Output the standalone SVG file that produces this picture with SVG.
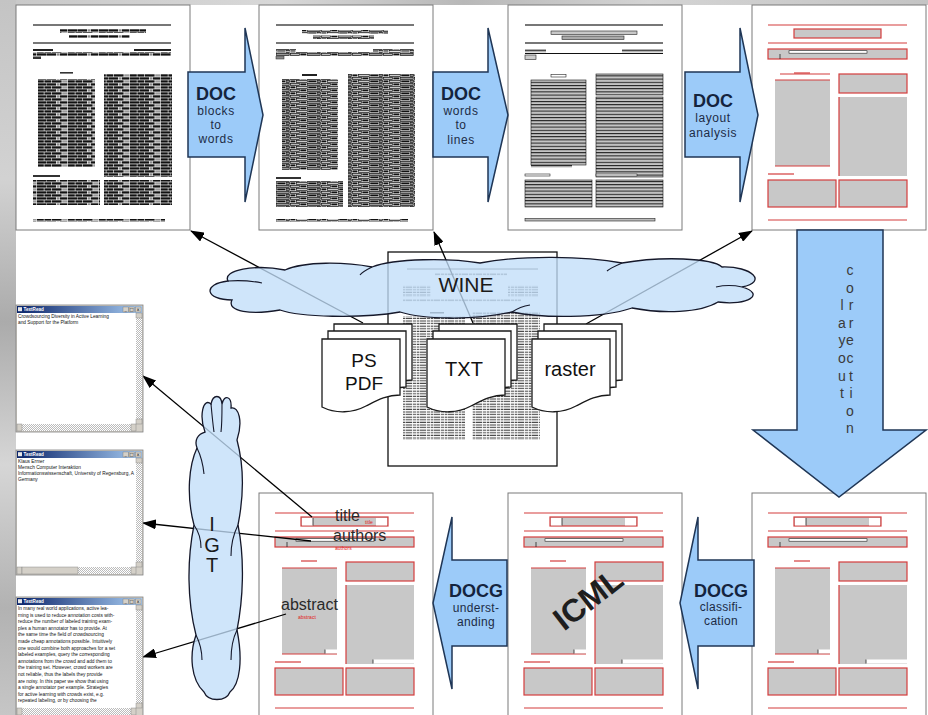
<svg xmlns="http://www.w3.org/2000/svg" width="928" height="715" viewBox="0 0 928 715">
<style>
.pg{fill:#fff;stroke:#7a7a7a;stroke-width:1}
.dl{stroke:#4a4a4a;stroke-width:1.6}
.rl{stroke:#d43c3c;stroke-width:1.2;fill:none}
.rb{fill:#c8c8c8;stroke:#d43c3c;stroke-width:1.2}
.gb{fill:#c8c8c8}
.bk{stroke:#222;stroke-width:.8}
.blk{fill:#9ccbf9;stroke:#1f3656;stroke-width:1.5}
.big{font-family:"Liberation Sans",Arial,sans-serif;font-weight:bold;font-size:18px;fill:#14243e;text-anchor:middle}
.sub{font-family:"Liberation Sans",Arial,sans-serif;font-size:12px;fill:#1c2c46;text-anchor:middle;letter-spacing:0.6px}
.cloud{fill:#c2def8;fill-opacity:.78;stroke:#15182a;stroke-width:1.3}
.fold{fill:none;stroke:#15182a;stroke-width:1.1}
.sheet{fill:#fff;stroke:#1a1a1a;stroke-width:1.3}
.st{font-family:"Liberation Sans",Arial,sans-serif;font-size:20px;fill:#111;text-anchor:middle}
.lc{font-family:"Liberation Sans",Arial,sans-serif;font-size:14px;fill:#3a3a3a;text-anchor:middle}
.conn{stroke:#000;stroke-width:1.3;fill:none;marker-end:url(#ah)}
.lab{font-family:"Liberation Sans",Arial,sans-serif;font-size:16px;fill:#2a2a2a}
.rsm{font-family:"Liberation Sans",Arial,sans-serif;font-size:5px;fill:#e02020}
.wt{font-family:"Liberation Sans",Arial,sans-serif;font-size:4.6px;font-weight:bold;fill:#fff}
.wx{font-family:"Liberation Sans",Arial,sans-serif;font-size:4.8px;fill:#111}
.wb{fill:#d4d0c8;stroke:#777;stroke-width:.4}
.bt{font-family:"DejaVu Sans",sans-serif;font-size:4.5px;fill:#000;text-anchor:middle}
</style>
<defs>
<linearGradient id="lstrip" x1="0" y1="0" x2="0" y2="1">
<stop offset="0" stop-color="#c4c4c4"/><stop offset=".25" stop-color="#d2d2d2"/><stop offset=".45" stop-color="#ababab"/><stop offset=".65" stop-color="#d6d6d6"/><stop offset=".85" stop-color="#b2b2b2"/><stop offset="1" stop-color="#c6c6c6"/>
</linearGradient>
<linearGradient id="tstrip" x1="0" y1="0" x2="1" y2="0">
<stop offset="0" stop-color="#c8c8c8"/><stop offset=".3" stop-color="#d8d8d8"/><stop offset=".5" stop-color="#b8b8b8"/><stop offset=".7" stop-color="#d4d4d4"/><stop offset="1" stop-color="#c4c4c4"/>
</linearGradient>
<linearGradient id="tb" x1="0" y1="0" x2="1" y2="0">
<stop offset="0" stop-color="#0a246a"/><stop offset="1" stop-color="#a6caf0"/>
</linearGradient>
<pattern id="n1" patternUnits="userSpaceOnUse" width="31" height="6">
<rect width="31" height="6" fill="#fff"/>
<rect x="0" y="0.3" width="9" height="2.3" fill="#111"/>
<rect x="9.6" y="0.3" width="3" height="2.3" fill="#888"/>
<rect x="13" y="0.3" width="7" height="2.3" fill="#111"/>
<rect x="20.6" y="0.3" width="10" height="2.3" fill="#111"/>
<rect x="0" y="3.3" width="4" height="2.3" fill="#111"/>
<rect x="4.6" y="3.3" width="10" height="2.3" fill="#111"/>
<rect x="15.2" y="3.3" width="5" height="2.3" fill="#999"/>
<rect x="20.8" y="3.3" width="7" height="2.3" fill="#111"/>
<rect x="28.4" y="3.3" width="2.6" height="2.3" fill="#111"/>
</pattern>
<pattern id="n2" patternUnits="userSpaceOnUse" width="31" height="6">
<rect width="31" height="6" fill="#fff"/>
<rect x="0.4" y="0.4" width="9" height="2" fill="#bbb" stroke="#111" stroke-width=".7"/>
<rect x="10.3" y="0.4" width="6" height="2" fill="#111"/>
<rect x="17.2" y="0.4" width="13" height="2" fill="#999" stroke="#111" stroke-width=".7"/>
<rect x="0.4" y="3.4" width="5" height="2" fill="#111"/>
<rect x="6.3" y="3.4" width="11" height="2" fill="#ccc" stroke="#111" stroke-width=".7"/>
<rect x="18.2" y="3.4" width="8" height="2" fill="#111"/>
<rect x="27" y="3.4" width="3.6" height="2" fill="#888" stroke="#111" stroke-width=".7"/>
</pattern>
<pattern id="ln" patternUnits="userSpaceOnUse" width="10" height="3.2">
<rect width="10" height="3.2" fill="#c4c4c4"/>
<rect width="10" height="1" fill="#1a1a1a"/>
</pattern>
<pattern id="tx" patternUnits="userSpaceOnUse" width="14" height="2.6">
<rect width="14" height="2.6" fill="#fff"/>
<rect x="0" y="0.6" width="6" height="1.1" fill="#444"/>
<rect x="6.8" y="0.6" width="3.5" height="1.1" fill="#555"/>
<rect x="11" y="0.6" width="2.4" height="1.1" fill="#444"/>
</pattern>
<pattern id="chk" patternUnits="userSpaceOnUse" width="2" height="2">
<rect width="2" height="2" fill="#fff"/>
<rect width="1" height="1" fill="#bbb"/>
<rect x="1" y="1" width="1" height="1" fill="#bbb"/>
</pattern>
<marker id="ah" markerUnits="userSpaceOnUse" markerWidth="14" markerHeight="10" viewBox="0 0 14 10" refX="13" refY="5" orient="auto">
<path d="M0,0 L14,5 L0,10 Z" fill="#000"/>
</marker>
<path id="sh" d="M0,0 H78 V56 C64,56 54,62 44,67 C31,74 14,75 0,68 Z"/>
<g id="redLayout">
<line class="rl" x1="16" y1="20" x2="155" y2="20"/>
<rect class="rb" x="42" y="24" width="87" height="9"/>
<line class="rl" x1="16" y1="38" x2="155" y2="38"/>
<rect class="rb" x="16" y="44" width="139" height="10"/>
<rect x="37" y="45.7" width="78" height="2.5" fill="#fff" stroke="#222" stroke-width=".6"/>
<line class="bk" x1="28" y1="49" x2="28" y2="54"/>
<line class="rl" x1="42" y1="68" x2="58" y2="68"/>
<rect class="gb" x="23" y="75" width="55" height="86"/>
<line class="rl" x1="23" y1="75" x2="78" y2="75"/>
<line class="rl" x1="23" y1="161" x2="78" y2="161"/>
<rect class="rb" x="87" y="69" width="68" height="19"/>
<rect class="gb" x="87" y="92" width="68" height="79"/>
<line class="rl" x1="87" y1="92" x2="87" y2="171"/>
<line class="rl" x1="16" y1="169" x2="42" y2="169"/>
<rect class="rb" x="16" y="175" width="68" height="27"/>
<rect class="rb" x="87" y="175" width="68" height="27"/>
<line class="rl" x1="16" y1="215" x2="155" y2="215"/>
</g>
<g id="notches">
<rect x="43" y="25" width="11" height="7.4" fill="#fff"/>
<rect x="117" y="25" width="11" height="7.4" fill="#fff"/>
<line class="bk" x1="54" y1="25" x2="54" y2="32.5"/>
<rect x="66" y="156.5" width="12" height="3.8" fill="#fff"/>
<line class="bk" x1="66" y1="156.5" x2="66" y2="160.5"/>
<rect x="114" y="166.5" width="41" height="4" fill="#fff"/>
<line class="bk" x1="114" y1="166.5" x2="114" y2="170.5"/>
</g>
</defs>

<rect width="928" height="715" fill="#fff"/>
<rect x="0" y="0" width="928" height="5" fill="url(#tstrip)"/>
<rect x="0" y="0" width="16" height="715" fill="url(#lstrip)"/>

<!-- top row pages -->
<g id="page-blocks" transform="translate(16,5)">
<rect class="pg" width="174" height="225"/>
<line class="dl" x1="17" y1="20" x2="155" y2="20"/>
<rect x="44" y="24" width="86" height="4" fill="url(#n1)"/>
<rect x="53" y="30" width="61" height="3" fill="url(#n1)"/>
<line class="dl" x1="17" y1="38" x2="155" y2="38"/>
<rect x="17" y="44" width="20" height="2" fill="#222"/>
<rect x="118" y="44" width="37" height="2" fill="#222"/>
<rect x="17" y="47" width="138" height="4" fill="url(#n1)"/>
<rect x="17" y="51.5" width="8" height="2.5" fill="#333"/>
<rect x="44" y="67" width="13" height="1.6" fill="#333"/>
<rect x="22" y="74" width="57" height="88" fill="url(#n1)"/>
<rect x="88" y="69" width="68" height="103" fill="url(#n1)"/>
<rect x="17" y="170" width="27" height="2" fill="#333"/>
<rect x="17" y="175" width="67" height="25" fill="url(#n1)"/>
<rect x="88" y="175" width="68" height="25" fill="url(#n1)"/>
<rect x="17" y="214" width="132" height="2.5" fill="url(#n1)"/>
</g>

<g id="page-words" transform="translate(259,5)">
<rect class="pg" width="174" height="225"/>
<line class="dl" x1="17" y1="20" x2="155" y2="20"/>
<rect x="43" y="25" width="86" height="3.5" fill="url(#n2)"/>
<rect x="54" y="30.5" width="61" height="3.5" fill="url(#n2)"/>
<line class="dl" x1="17" y1="38" x2="155" y2="38"/>
<rect x="17" y="44" width="20" height="2.5" fill="url(#n2)"/>
<rect x="114" y="44" width="41" height="2.5" fill="url(#n2)"/>
<rect x="17" y="47" width="138" height="4" fill="url(#n2)"/>
<rect x="17" y="51.5" width="8" height="2.5" fill="#888" stroke="#222" stroke-width=".5"/>
<rect x="43" y="69" width="15" height="2" fill="#222"/>
<rect x="23" y="74" width="56" height="91" fill="url(#n2)"/>
<rect x="89" y="69" width="67" height="108" fill="url(#n2)"/>
<rect x="17" y="172" width="25" height="2" fill="#333"/>
<rect x="17" y="176" width="67" height="26" fill="url(#n2)"/>
<rect x="89" y="176" width="67" height="26" fill="url(#n2)"/>
<rect x="17" y="214" width="132" height="2.5" fill="url(#n2)"/>
</g>

<g id="page-lines" transform="translate(508,5)">
<rect class="pg" width="174" height="225"/>
<line class="dl" x1="17" y1="20" x2="155" y2="20"/>
<rect x="43" y="26" width="86" height="3.5" fill="#c8c8c8" stroke="#222" stroke-width=".6"/>
<rect x="54" y="31" width="62" height="3.5" fill="#aaa" stroke="#222" stroke-width=".6"/>
<line class="dl" x1="17" y1="38" x2="155" y2="38"/>
<rect x="17" y="44" width="21" height="3.5" fill="url(#ln)"/>
<rect x="114" y="44" width="41" height="3.5" fill="url(#ln)"/>
<line x1="17" y1="48.5" x2="155" y2="48.5" stroke="#111" stroke-width="1"/>
<rect x="17" y="50" width="11" height="4.5" fill="#ccc" stroke="#222" stroke-width=".6"/>
<rect x="43" y="69.5" width="15" height="2.5" fill="#fff" stroke="#222" stroke-width=".6"/>
<rect x="23" y="75" width="55" height="85" fill="url(#ln)" stroke="#111" stroke-width=".6"/>
<rect x="23" y="160" width="41" height="2.5" fill="url(#ln)"/>
<rect x="88" y="69" width="67" height="21" fill="url(#ln)" stroke="#111" stroke-width=".6"/>
<rect x="88" y="92" width="67" height="80" fill="url(#ln)" stroke="#111" stroke-width=".6"/>
<rect x="17" y="169" width="25" height="2" fill="#fff" stroke="#222" stroke-width=".6"/>
<rect x="88" y="169" width="41" height="2" fill="#fff" stroke="#222" stroke-width=".6"/>
<rect x="17" y="175" width="67" height="27" fill="url(#ln)" stroke="#111" stroke-width=".6"/>
<rect x="88" y="175" width="67" height="27" fill="url(#ln)" stroke="#111" stroke-width=".6"/>
<rect x="17" y="213.5" width="130" height="2.5" fill="#bbb" stroke="#222" stroke-width=".6"/>
</g>

<g id="page-layout" transform="translate(752,5)">
<rect class="pg" width="174" height="225"/>
<use href="#redLayout"/>
<line class="rl" x1="28" y1="69" x2="78" y2="69"/>
</g>

<!-- bottom row pages -->
<g id="page-classified" transform="translate(752,493)">
<rect class="pg" width="174" height="225"/>
<use href="#redLayout"/>
<use href="#notches"/>
</g>

<g id="page-icml" transform="translate(508,493)">
<rect class="pg" width="174" height="225"/>
<use href="#redLayout"/>
<use href="#notches"/>
<text x="80" y="106" transform="rotate(-38 80 106)" text-anchor="middle" dominant-baseline="central" font-family="Liberation Sans, Arial, sans-serif" font-weight="bold" font-size="32" fill="#1e1e1e">ICML</text>
</g>

<g id="page-understood" transform="translate(259,493)">
<rect class="pg" width="174" height="225"/>
<use href="#redLayout"/>
<use href="#notches"/>
<text class="lab" x="76" y="28">title</text>
<text class="rsm" x="106" y="31">title</text>
<text class="lab" x="74" y="48">authors</text>
<text class="rsm" x="76" y="56.5">authors</text>
<text class="lab" x="22" y="117">abstract</text>
<text class="rsm" x="39" y="125.5">abstract</text>
</g>

<!-- block arrows -->
<g id="step-blocks-to-words">
<path class="blk" d="M188,72 H245 V28 L263,115 L245,202 V157 H188 Z"/>
<text class="big" x="216" y="100">DOC</text>
<text class="sub" x="216" y="115">blocks</text>
<text class="sub" x="216" y="129">to</text>
<text class="sub" x="216" y="143">words</text>
</g>
<g id="step-words-to-lines">
<path class="blk" d="M433,72 H488 V28 L508,115 L488,202 V157 H433 Z"/>
<text class="big" x="461" y="100">DOC</text>
<text class="sub" x="461" y="115">words</text>
<text class="sub" x="461" y="129">to</text>
<text class="sub" x="461" y="144">lines</text>
</g>
<g id="step-layout-analysis">
<path class="blk" d="M685,72 H740 V28 L758,115 L740,202 V157 H685 Z"/>
<text class="big" x="713" y="107">DOC</text>
<text class="sub" x="713" y="122">layout</text>
<text class="sub" x="713" y="137">analysis</text>
</g>
<g id="step-layout-correction">
<path class="blk" d="M797,230 V430 H753 L839,497 L926,430 H883 V230 Z"/>
<text class="lc" x="850" y="275">c</text>
<text class="lc" x="850" y="292.6">o</text>
<text class="lc" x="851" y="310">r</text>
<text class="lc" x="851" y="327.8">r</text>
<text class="lc" x="850" y="345.4">e</text>
<text class="lc" x="850" y="363">c</text>
<text class="lc" x="851" y="380.6">t</text>
<text class="lc" x="851" y="398">i</text>
<text class="lc" x="850" y="415.8">o</text>
<text class="lc" x="850" y="433.4">n</text>
<text class="lc" x="842" y="310">l</text>
<text class="lc" x="842" y="327.8">a</text>
<text class="lc" x="842" y="345.4">y</text>
<text class="lc" x="842" y="363">o</text>
<text class="lc" x="842" y="380.6">u</text>
<text class="lc" x="842" y="398">t</text>
</g>
<g id="step-classification">
<path class="blk" d="M754,560 H698 V517 L680,603 L698,689 V646 H754 Z"/>
<text class="big" x="721" y="597">DOCG</text>
<text class="sub" x="721" y="611" style="letter-spacing:0.3px">classifi-</text>
<text class="sub" x="721" y="625" style="letter-spacing:0.3px">cation</text>
</g>
<g id="step-understanding">
<path class="blk" d="M507,560 H452 V517 L433,603 L452,689 V646 H507 Z"/>
<text class="big" x="476" y="597">DOCG</text>
<text class="sub" x="476" y="612" style="letter-spacing:0.3px">underst-</text>
<text class="sub" x="476" y="626" style="letter-spacing:0.3px">anding</text>
</g>

<!-- source document -->
<g id="source-doc">
<rect x="388" y="252" width="169" height="214" fill="#fff" stroke="#111" stroke-width="1.3"/>
<line x1="407" y1="269" x2="538" y2="269" stroke="#444" stroke-width="1"/>
<rect x="435" y="273" width="72" height="2.6" fill="url(#tx)"/>
<rect x="403" y="285" width="28" height="12" fill="url(#tx)"/>
<rect x="508" y="285" width="30" height="12" fill="url(#tx)"/>
<rect x="403" y="299" width="118" height="2.6" fill="url(#tx)"/>
<rect x="430" y="312" width="14" height="1.5" fill="#333"/>
<rect x="403" y="316" width="62" height="124" fill="url(#tx)"/>
<rect x="472" y="312" width="68" height="128" fill="url(#tx)"/>
</g>

<!-- connectors -->
<g id="connectors">
<path class="conn" d="M363,323 L191,231"/>
<path class="conn" d="M473,323 L434,232"/>
<path class="conn" d="M586,324 L752,231"/>
<path class="conn" d="M312,517 L143,376"/>
<path class="conn" d="M311,541 L143,523"/>
<path class="conn" d="M286,614 L143,657"/>
</g>

<!-- clouds -->
<g id="cloud-wine">
<path class="cloud" d="M232,300 C205,300 202,284 228,281 C222,270 255,264 285,270 C305,261 345,262 372,267 C395,258 450,258 480,263 C520,255 585,256 622,263 C662,256 712,258 722,267 C752,266 768,282 742,287 C766,294 748,306 718,302 C700,313 662,314 632,308 C600,319 540,318 512,312 C472,321 422,319 400,312 C360,319 300,317 280,310 C252,315 226,312 232,300 Z"/>
<path class="fold" d="M228,281 C240,280 252,281 262,283"/>
<path class="fold" d="M742,287 C733,285 725,285 716,287"/>
<path class="fold" d="M372,267 C366,270 362,272 360,275"/>
<path class="fold" d="M622,263 C615,266 610,268 607,271"/>
<path class="fold" d="M512,312 C518,308 524,306 530,305"/>
<text x="466" y="292" text-anchor="middle" font-family="Liberation Sans, Arial, sans-serif" font-size="21" fill="#1a1a1a">WINE</text>
</g>

<g id="cloud-igt">
<path class="cloud" d="M205,432 C199,416 203,397 211,404 C213,394 221,394 222,404 C224,394 232,396 231,408 C239,406 243,422 237,440 C245,470 243,500 238,525 C245,560 243,600 237,630 C243,660 240,684 230,692 C226,702 208,702 204,692 C191,680 189,655 196,635 C187,600 187,560 194,525 C186,495 189,465 197,448 C194,440 198,434 205,432 Z"/>
<path class="fold" d="M211,404 C212,415 213,425 214,432"/>
<path class="fold" d="M222,404 C222,414 222,424 221,432"/>
<path class="fold" d="M197,448 C201,456 203,464 204,474"/>
<path class="fold" d="M238,525 C233,535 231,546 231,556"/>
<path class="fold" d="M194,525 C199,532 201,540 201,548"/>
<path class="fold" d="M196,635 C200,643 202,651 202,660"/>
<path class="fold" d="M237,630 C232,640 231,650 231,660"/>
<text x="212" y="531" text-anchor="middle" font-family="Liberation Sans, Arial, sans-serif" font-size="20" fill="#1a1a1a">I</text>
<text x="212" y="552" text-anchor="middle" font-family="Liberation Sans, Arial, sans-serif" font-size="20" fill="#1a1a1a">G</text>
<text x="212" y="572" text-anchor="middle" font-family="Liberation Sans, Arial, sans-serif" font-size="20" fill="#1a1a1a">T</text>
</g>

<!-- input format stacks -->
<g id="stack-ps-pdf">
<use href="#sh" class="sheet" x="334" y="324"/>
<use href="#sh" class="sheet" x="328" y="331"/>
<use href="#sh" class="sheet" x="322" y="339"/>
<text class="st" x="364" y="367" style="font-size:19px">PS</text>
<text class="st" x="364" y="390" style="font-size:19px">PDF</text>
</g>
<g id="stack-txt">
<use href="#sh" class="sheet" x="439" y="324"/>
<use href="#sh" class="sheet" x="433" y="331"/>
<use href="#sh" class="sheet" x="427" y="339"/>
<text class="st" x="464" y="376">TXT</text>
</g>
<g id="stack-raster">
<use href="#sh" class="sheet" x="544" y="324"/>
<use href="#sh" class="sheet" x="538" y="331"/>
<use href="#sh" class="sheet" x="532" y="339"/>
<text class="st" x="570" y="376">raster</text>
</g>

<!-- text windows -->
<g id="win-title" transform="translate(16,305)">
<rect width="127" height="127" fill="#d4d0c8" stroke="#808080" stroke-width=".8"/>
<rect x="1" y="1" width="125" height="7" fill="url(#tb)"/>
<rect x="2" y="2.2" width="4" height="4" fill="#e8e8e8"/>
<text class="wt" x="7.5" y="6.3">TextRead</text>
<rect class="wb" x="107" y="2" width="5.5" height="5"/><rect class="wb" x="113" y="2" width="5.5" height="5"/><rect class="wb" x="119.5" y="2" width="5.5" height="5"/>
<text class="bt" x="109.7" y="6">_</text><text class="bt" x="115.7" y="6">□</text><text class="bt" x="122.2" y="6">x</text>
<rect x="1" y="8" width="119" height="111" fill="#fff"/>
<rect x="120" y="8" width="6" height="111" fill="url(#chk)"/>
<rect class="wb" x="120" y="8" width="6" height="5"/><rect class="wb" x="120" y="114" width="6" height="5"/>
<rect x="1" y="119" width="119" height="7" fill="url(#chk)"/>
<rect class="wb" x="1" y="119" width="5" height="7"/><rect class="wb" x="115" y="119" width="5" height="7"/>
<text class="wx" x="2" y="13">Crowdsourcing Diversity in Active Learning</text>
<text class="wx" x="2" y="19">and Support for the Platform</text>
</g>

<g id="win-authors" transform="translate(16,450)">
<rect width="127" height="125" fill="#d4d0c8" stroke="#808080" stroke-width=".8"/>
<rect x="1" y="1" width="125" height="7" fill="url(#tb)"/>
<rect x="2" y="2.2" width="4" height="4" fill="#e8e8e8"/>
<text class="wt" x="7.5" y="6.3">TextRead</text>
<rect class="wb" x="107" y="2" width="5.5" height="5"/><rect class="wb" x="113" y="2" width="5.5" height="5"/><rect class="wb" x="119.5" y="2" width="5.5" height="5"/>
<text class="bt" x="109.7" y="6">_</text><text class="bt" x="115.7" y="6">□</text><text class="bt" x="122.2" y="6">x</text>
<rect x="1" y="8" width="119" height="109" fill="#fff"/>
<rect x="120" y="8" width="6" height="109" fill="url(#chk)"/>
<rect class="wb" x="120" y="8" width="6" height="5"/><rect class="wb" x="120" y="112" width="6" height="5"/>
<rect x="1" y="117" width="119" height="7" fill="url(#chk)"/>
<rect class="wb" x="1" y="117" width="5" height="7"/><rect class="wb" x="115" y="117" width="5" height="7"/><rect class="wb" x="6" y="117" width="56" height="7"/>
<text class="wx" x="2" y="13">Klaus Ermer</text>
<text class="wx" x="2" y="19">Mensch Computer Interaktion</text>
<text class="wx" x="2" y="25">Informationswissenschaft, University of Regensburg, A</text>
<text class="wx" x="2" y="31">Germany</text>
</g>

<g id="win-abstract" transform="translate(16,597)">
<rect width="127" height="125" fill="#d4d0c8" stroke="#808080" stroke-width=".8"/>
<rect x="1" y="1" width="125" height="7" fill="url(#tb)"/>
<rect x="2" y="2.2" width="4" height="4" fill="#e8e8e8"/>
<text class="wt" x="7.5" y="6.3">TextRead</text>
<rect class="wb" x="107" y="2" width="5.5" height="5"/><rect class="wb" x="113" y="2" width="5.5" height="5"/><rect class="wb" x="119.5" y="2" width="5.5" height="5"/>
<text class="bt" x="109.7" y="6">_</text><text class="bt" x="115.7" y="6">□</text><text class="bt" x="122.2" y="6">x</text>
<rect x="1" y="8" width="119" height="103" fill="#fff"/>
<rect x="120" y="8" width="6" height="103" fill="url(#chk)"/>
<rect class="wb" x="120" y="8" width="6" height="5"/><rect class="wb" x="120" y="106" width="6" height="5"/>
<rect x="1" y="111" width="119" height="7" fill="url(#chk)"/>
<rect class="wb" x="1" y="111" width="5" height="7"/><rect class="wb" x="115" y="111" width="5" height="7"/>
<text class="wx" x="2" y="13">In many real world applications, active lea-</text>
<text class="wx" x="2" y="19.6">rning is used to reduce annotation costs with-</text>
<text class="wx" x="2" y="26.2">reduce the number of labeled training exam-</text>
<text class="wx" x="2" y="32.8">ples a human annotator has to provide. At</text>
<text class="wx" x="2" y="39.4">the same time the field of crowdsourcing</text>
<text class="wx" x="2" y="46">made cheap annotations possible. Intuitively</text>
<text class="wx" x="2" y="52.6">one would combine both approaches for a set</text>
<text class="wx" x="2" y="59.2">labeled examples, query the corresponding</text>
<text class="wx" x="2" y="65.8">annotations from the crowd and add them to</text>
<text class="wx" x="2" y="72.4">the training set. However, crowd workers are</text>
<text class="wx" x="2" y="79">not reliable, thus the labels they provide</text>
<text class="wx" x="2" y="85.6">are noisy. In this paper we show that using</text>
<text class="wx" x="2" y="92.2">a single annotator per example. Strategies</text>
<text class="wx" x="2" y="98.8">for active learning with crowds exist, e.g.</text>
<text class="wx" x="2" y="105.4">repeated labeling, or by choosing the</text>
</g>
</svg>
